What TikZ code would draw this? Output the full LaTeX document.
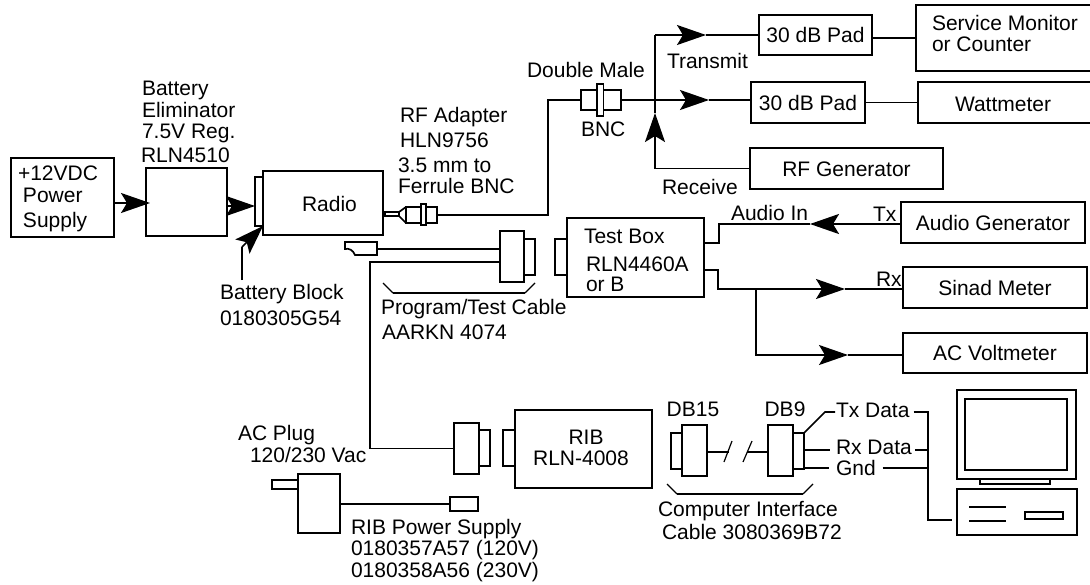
\documentclass[tikz,border=0pt]{standalone}
\usepackage{fontspec}
\usepackage{tikz}
\usetikzlibrary{arrows.meta,calc}
\setmainfont{Liberation Sans}

\tikzset{
  wire/.style={line width=1.7pt},
  bigtip/.style={wire,-{Stealth[length=29pt,width=20pt,inset=6pt]}},
  blockbox/.style={draw,line width=1.7pt,anchor=north west,inner sep=0pt,outer sep=0pt,fill=white},
  namedbox/.style={blockbox,text height=15pt,text depth=0pt},
  lbl/.style={anchor=west,inner sep=0pt,outer sep=0pt,text height=15pt,text depth=0pt}
}

\begin{document}
\begin{tikzpicture}[x=1pt,y=-1pt,font=\fontsize{21pt}{24pt}\selectfont]
  \useasboundingbox (0,0) rectangle (1090,584);
  % power side
  \node[blockbox,minimum width=103pt,minimum height=79pt] (psu) at (11,158) {};
  \node[blockbox,line width=2.5pt,minimum width=81pt,minimum height=68pt] (elim) at (146,168) {};
  \node[blockbox,minimum width=120pt,minimum height=64pt] (radio) at (263,171) {};
  \node[blockbox,minimum width=8pt,minimum height=49pt] (batt) at (255,177) {};
  \node[lbl] (psua) at (18,173) {+12VDC};
  \node[lbl] (psub) at (23,195) {Power};
  \node[lbl] (psuc) at (23,220) {Supply};
  \node[lbl] (elima) at (142,88) {Battery};
  \node[lbl] (elimb) at (142,110) {Eliminator};
  \node[lbl] (elimc) at (142,131) {7.5V Reg.};
  \node[lbl] (elimd) at (141,155) {RLN4510};
  \node[lbl] (radiotext) at (302,204) {Radio};
  \node[lbl] (blocka) at (220,292) {Battery Block};
  \node[lbl] (blockb) at (220,318) {0180305G54};
  \coordinate (tippsu) at (150,203);
  \coordinate (tipelim) at (255,206);
  \coordinate (blockfoot) at (242,280);
  \coordinate (blockbend) at (242,247);
  \draw[bigtip] (psu.east |- tippsu) -- (tippsu);
  \draw[bigtip] (elim.east |- tipelim) -- (tipelim);
  \draw[wire] (blockfoot) -- (blockbend);
  \draw[bigtip] (blockbend) -- (batt.south east);

  % RF adapter and double male
  \node[blockbox,line width=1.3pt,minimum width=14pt,minimum height=4pt] (pin) at (385,212) {};
  \node[blockbox,minimum width=31pt,minimum height=16pt] (adbody) at (406,207) {};
  \node[blockbox,minimum width=5pt,minimum height=21pt] (adflange) at (421,204) {};
  \draw[wire] (pin.north east) -- (adbody.north west);
  \draw[wire] (pin.south east) -- (adbody.south west);
  \node[blockbox,minimum width=40pt,minimum height=20pt] (bnc) at (581,90) {};
  \node[blockbox,minimum width=6.5pt,minimum height=32pt] (bncflange) at (597,84) {};
  \coordinate (rfbend) at (548,100);
  \draw[wire] (adbody.east) -- (adbody.east -| rfbend) -- (rfbend) -- (bnc.west);
  \node[lbl] (rfa) at (400,115) {RF Adapter};
  \node[lbl] (rfb) at (400,140) {HLN9756};
  \node[lbl] (rfc) at (398,165) {3.5 mm to};
  \node[lbl] (rfd) at (398,186) {Ferrule BNC};
  \node[lbl] (malea) at (527,70) {Double Male};
  \node[lbl] (maleb) at (581,129) {BNC};

  % RF side
  \node[namedbox,minimum width=113pt,minimum height=40pt] (pada) at (759,15) {30 dB Pad};
  \node[namedbox,minimum width=114pt,minimum height=41pt] (padb) at (751,82) {30 dB Pad};
  \node[blockbox,minimum width=176pt,minimum height=66pt] (service) at (916,5) {};
  \node[blockbox,minimum width=174pt,minimum height=41pt] (watt) at (918,82) {};
  \node[namedbox,minimum width=193pt,minimum height=41pt] (rfgen) at (750,148) {RF Generator};
  \node[lbl] (servicea) at (932,23) {Service Monitor};
  \node[lbl] (serviceb) at (932,44) {or Counter};
  \node[lbl] (wattext) at (955,104) {Wattmeter};
  \node[lbl] (transmit) at (667,61) {Transmit};
  \node[lbl] (receive) at (662,187) {Receive};
  \coordinate (rftop) at (655,35);
  \coordinate (tiptx) at (706,35);
  \coordinate (tipmain) at (709,100);
  \coordinate (tiprx) at (655,113);
  \draw[bigtip] (bnc.east) -- (tipmain);
  \draw[wire] (tipmain) -- (tipmain -| padb.west);
  \draw[wire] (tiprx) -- (rftop);
  \draw[bigtip] (rftop) -- (tiptx);
  \draw[wire] (tiptx) -- (pada.west);
  \draw[bigtip] (rfgen.west) -| (tiprx);
  \draw[wire] (pada.east |- service.west) -- (service.west);
  \draw[wire] (padb.east) -- (watt.west);

  % program/test cable
  \coordinate (plugend) at (377,249);
  \coordinate (ribcable) at (370,262);
  \draw[wire,fill=white] (plugend) -- (377,255) -- (355,255) .. controls (353,250) and (349,248) .. (345,249) -- (345,242) -- (377,242) -- cycle;
  \node[blockbox,minimum width=11pt,minimum height=36pt] (progpin) at (524,239) {};
  \node[blockbox,minimum width=24pt,minimum height=51pt] (progbody) at (500,231) {};
  \node[blockbox,minimum width=12pt,minimum height=36pt] (teststub) at (555,239) {};
  \node[blockbox,minimum width=137pt,minimum height=79pt] (testbox) at (567,218) {};
  \draw[wire] (plugend) -- (plugend -| progbody.west);
  \coordinate (cablea) at (383,283);
  \coordinate (cableb) at (393,293);
  \coordinate (cablec) at (525,293);
  \coordinate (cabled) at (535,283);
  \draw[line width=1.2pt] (cablea) -- (cableb);
  \draw[wire] (cableb) -- (cablec);
  \draw[line width=1.2pt] (cablec) -- (cabled);
  \node[lbl] (proga) at (381,307) {Program/Test Cable};
  \node[lbl] (progb) at (382,332) {AARKN 4074};
  \node[lbl] (testa) at (584,236) {Test Box};
  \node[lbl] (testb) at (586,264) {RLN4460A};
  \node[lbl] (testc) at (586,284) {or B};

  % audio side
  \node[namedbox,minimum width=184pt,minimum height=41pt] (audio) at (901,202) {Audio Generator};
  \node[namedbox,minimum width=184pt,minimum height=41pt] (sinad) at (903,267) {Sinad Meter};
  \node[namedbox,minimum width=184pt,minimum height=40pt] (acv) at (903,333) {AC Voltmeter};
  \node[lbl] (audioin) at (731,213) {Audio In};
  \node[lbl] (txa) at (873,214) {Tx};
  \node[lbl] (rxa) at (876,279) {Rx};
  \coordinate (tipaudio) at (810,224);
  \coordinate (jogup) at (719,243);
  \coordinate (tipsinad) at (845,289);
  \coordinate (jogdown) at (718,270);
  \coordinate (branch) at (756,289);
  \coordinate (tipac) at (848,355);
  \draw[bigtip,line width=2.3pt] (audio.west |- tipaudio) -- (tipaudio);
  \draw[wire] (tipaudio) -| (jogup) -- (jogup -| testbox.east);
  \draw[bigtip] (jogdown -| testbox.east) -- (jogdown) |- (tipsinad);
  \draw[wire] (tipsinad) -- (tipsinad -| sinad.west);
  \draw[bigtip] (branch) |- (tipac);
  \draw[wire] (tipac) -- (tipac -| acv.west);

  % RIB
  \node[blockbox,minimum width=25pt,minimum height=51pt] (ribbody) at (454,423) {};
  \node[blockbox,minimum width=11pt,minimum height=36pt] (ribpin) at (479,430) {};
  \node[blockbox,minimum width=12pt,minimum height=36pt] (ribstub) at (503,430) {};
  \node[blockbox,minimum width=137pt,minimum height=78pt] (rib) at (515,410) {};
  \node[lbl,anchor=center] (riba) at (586,437) {RIB};
  \node[lbl,anchor=center] (ribb) at (581,458) {RLN-4008};
  \draw[wire] (ribcable -| progbody.west) -- (ribcable) |- (ribbody.west);
  \node[blockbox,minimum width=26pt,minimum height=9pt] (prong) at (272,480) {};
  \node[blockbox,minimum width=42pt,minimum height=59pt] (plug) at (298,474) {};
  \node[blockbox,minimum width=28pt,minimum height=14pt] (ribplug) at (450,497) {};
  \draw[wire] (plug.east |- ribplug.west) -- (ribplug.west);
  \node[lbl] (aca) at (238,433) {AC Plug};
  \node[lbl] (acb) at (250,455) {120/230 Vac};
  \node[lbl] (ribsupa) at (351,527) {RIB Power Supply};
  \node[lbl] (ribsupb) at (351,548) {0180357A57 (120V)};
  \node[lbl] (ribsupc) at (351,570) {0180358A56 (230V)};

  % computer cable
  \node[blockbox,minimum width=11pt,minimum height=36pt] (dbfifteenpin) at (671,433) {};
  \node[blockbox,minimum width=25pt,minimum height=51pt] (dbfifteen) at (682,425) {};
  \node[blockbox,minimum width=25pt,minimum height=51pt] (dbnine) at (768,425) {};
  \node[blockbox,minimum width=11pt,minimum height=36pt] (dbninepin) at (793,433) {};
  \node[lbl,anchor=center] (dbfifteentext) at (693,409) {DB15};
  \node[lbl,anchor=center] (dbninetext) at (785,409) {DB9};
  \coordinate (breaka) at (729,452);
  \coordinate (breakb) at (747,452);
  \draw[wire] (dbfifteen.east |- breaka) -- (breaka);
  \draw[wire] (breakb) -- (breakb -| dbnine.west);
  \draw[line width=1.2pt] (724,462) -- (732,441);
  \draw[line width=1.2pt] (743,462) -- (752,441);
  \coordinate (bracea) at (667,484);
  \coordinate (braceb) at (677,494);
  \coordinate (bracec) at (803,494);
  \coordinate (braced) at (813,484);
  \draw[line width=1.2pt] (bracea) -- (braceb);
  \draw[wire] (braceb) -- (bracec);
  \draw[line width=1.2pt] (bracec) -- (braced);
  \node[lbl] (compa) at (658,509) {Computer Interface};
  \node[lbl] (compb) at (662,532) {Cable 3080369B72};
  \node[lbl] (txdata) at (836,410) {Tx Data};
  \node[lbl] (rxdata) at (836,447) {Rx Data};
  \node[lbl] (gnd) at (836,468) {Gnd};

  % computer
  \node[blockbox,minimum width=70pt,minimum height=5pt] (stand) at (980,479) {};
  \node[blockbox,minimum width=119pt,minimum height=89pt] (monitor) at (957,390) {};
  \node[blockbox,minimum width=102pt,minimum height=71pt] (screen) at (965,399) {};
  \node[blockbox,minimum width=120pt,minimum height=46pt] (pc) at (957,489) {};
  \node[blockbox,minimum width=38pt,minimum height=7pt] (slot) at (1025,512) {};
  \draw[wire] (969,507) -- (1006,507);
  \draw[wire] (969,521) -- (1006,521);
  \coordinate (bustop) at (928,412);
  \coordinate (rxtap) at (928,450);
  \coordinate (gndtap) at (928,468);
  \coordinate (busend) at (952,520);
  \draw[wire] (dbninepin.north east) -- (825,412) -- ([xshift=-1pt]txdata.west |- bustop);
  \draw[wire] (rxtap -| dbninepin.east) -- ([xshift=-6pt]rxtap -| rxdata.west);
  \draw[wire] (gndtap -| dbninepin.east) -- ([xshift=-7pt]gndtap -| gnd.west);
  \draw[wire] ([xshift=4pt]bustop -| txdata.east) -- (bustop) |- (busend);
  \draw[wire] ([xshift=3pt]rxtap -| rxdata.east) -- (rxtap);
  \draw[wire] ([xshift=7pt]gndtap -| gnd.east) -- (gndtap);
\end{tikzpicture}
\end{document}
